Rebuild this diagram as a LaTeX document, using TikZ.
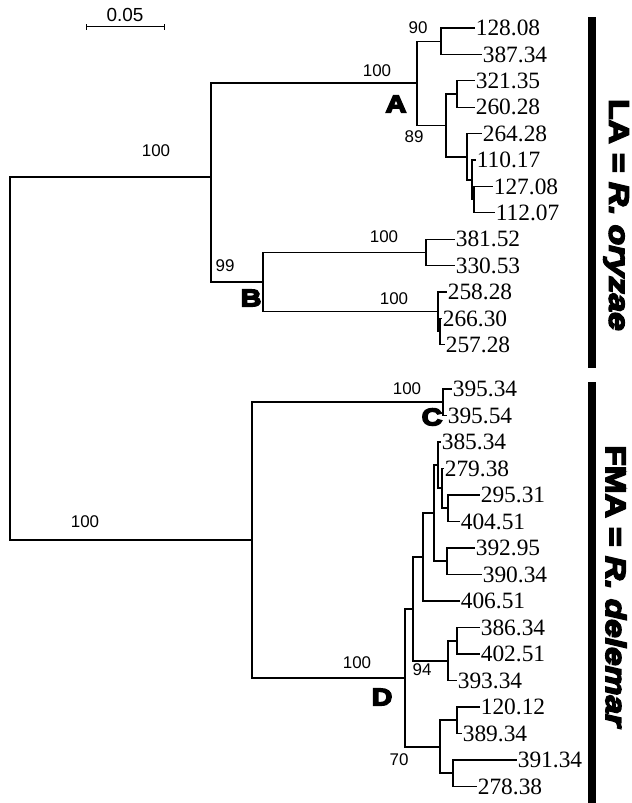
\documentclass[tikz,border=0pt]{standalone}
\usepackage{fontspec}
\setmainfont{Liberation Serif}
\newfontfamily\bsfont{Liberation Sans}
\newfontfamily\heavy{Liberation Sans}[BoldFeatures={FakeStretch=1.2},BoldItalicFeatures={FakeStretch=1.2}]
\newcommand\blacktext[2]{\special{pdf:literal direct 2 Tr #1 w}#2\special{pdf:literal direct 0 Tr}}

\begin{document}
\begin{tikzpicture}[x=1bp,y=-1bp,
    branch/.style={line width=1.2bp},
    leaf/.style={anchor=west,inner sep=0.6bp,font=\fontsize{23.5}{24}\selectfont},
    boot/.style={inner sep=0pt,font=\bsfont\fontsize{17}{18}\selectfont},
    clade/.style={inner sep=0pt,font=\heavy\bfseries\fontsize{24}{25}\selectfont},
    group/.style={inner sep=0pt,rotate=-90,font=\heavy\bfseries\fontsize{28}{30}\selectfont}]
    \useasboundingbox (0,0) rectangle (632,803);

    % scale bar
    \coordinate (sbl) at (86,27);
    \coordinate (sbr) at (164,27);
    \node [inner sep=0pt,font=\bsfont\fontsize{19}{20}\selectfont] (scale) at (125,15) {0.05};
    \draw [line width=1bp] (sbl) -- (sbr);
    \draw [line width=1bp] ([yshift=-3bp]sbl) -- ([yshift=3bp]sbl);
    \draw [line width=1bp] ([yshift=-3bp]sbr) -- ([yshift=3bp]sbr);

    % inner nodes
    \coordinate (root) at (10,357.5);
    \coordinate (LA) at (211,177);
    \coordinate (cA) at (417,83);
    \coordinate (n90) at (441,41.2);
    \coordinate (n89) at (446,125.5);
    \coordinate (n89a) at (457,94);
    \coordinate (n89b) at (467,157);
    \coordinate (z2) at (472,180);
    \coordinate (z1) at (474,199.6);
    \coordinate (cB) at (263,282);
    \coordinate (b1) at (426,252.4);
    \coordinate (b2) at (438,311.8);
    \coordinate (b2a) at (440,331.6);
    \coordinate (FMA) at (252,540);
    \coordinate (cC) at (443,402);
    \coordinate (cD) at (405,678);
    \coordinate (d1) at (413,609);
    \coordinate (d2) at (423,557);
    \coordinate (d3) at (434,513);
    \coordinate (d4) at (438,465);
    \coordinate (d5) at (442,488);
    \coordinate (d6) at (448,508);
    \coordinate (d7) at (447,561);
    \coordinate (n94) at (448,661);
    \coordinate (d8) at (457,641);
    \coordinate (n70) at (440,747);
    \coordinate (d9) at (457,720);
    \coordinate (d10) at (453,773);

    % leaves
    \node [leaf] (s12808) at (475,28) {128.08};
    \node [leaf] (s38734) at (482,54.4) {387.34};
    \node [leaf] (s32135) at (475,80.8) {321.35};
    \node [leaf] (s26028) at (475,107.2) {260.28};
    \node [leaf] (s26428) at (482,133.6) {264.28};
    \node [leaf] (s11017) at (476,160) {110.17};
    \node [leaf] (s12708) at (493,186.4) {127.08};
    \node [leaf] (s11207) at (495,212.8) {112.07};
    \node [leaf] (s38152) at (455,239.2) {381.52};
    \node [leaf] (s33053) at (455,265.6) {330.53};
    \node [leaf] (s25828) at (447,292) {258.28};
    \node [leaf] (s26630) at (442,318.4) {266.30};
    \node [leaf] (s25728) at (445,344.8) {257.28};

    \node [leaf] (s39534) at (452,389) {395.34};
    \node [leaf] (s39554) at (447,415.5) {395.54};
    \node [leaf] (s38534) at (441,442) {385.34};
    \node [leaf] (s27938) at (444,468.5) {279.38};
    \node [leaf] (s29531) at (480,495) {295.31};
    \node [leaf] (s40451) at (460,521.5) {404.51};
    \node [leaf] (s39295) at (475,548) {392.95};
    \node [leaf] (s39034) at (482,574.5) {390.34};
    \node [leaf] (s40651) at (460,601) {406.51};
    \node [leaf] (s38634) at (480,627.5) {386.34};
    \node [leaf] (s40251) at (480,654) {402.51};
    \node [leaf] (s39334) at (457,680.5) {393.34};
    \node [leaf] (s12012) at (480,707) {120.12};
    \node [leaf] (s38934) at (462,733.5) {389.34};
    \node [leaf] (s39134) at (517,760) {391.34};
    \node [leaf] (s27838) at (477,786.5) {278.38};

    % branches
    \draw [branch] (root) |- (LA);
    \draw [branch] (root) |- (FMA);
    \draw [branch] (LA) |- (cA);
    \draw [branch] (LA) |- (cB);
    \draw [branch] (cA) |- (n90);
    \draw [branch] (cA) |- (n89);
    \draw [branch] (n90) |- (s12808);
    \draw [branch] (n90) |- (s38734);
    \draw [branch] (n89) |- (n89a);
    \draw [branch] (n89) |- (n89b);
    \draw [branch] (n89a) |- (s32135);
    \draw [branch] (n89a) |- (s26028);
    \draw [branch] (n89b) |- (s26428);
    \draw [branch] (n89b) |- (z2);
    \draw [branch] (z2) |- (s11017);
    \draw [branch] (z2) |- (z1);
    \draw [branch] (z1) |- (s12708);
    \draw [branch] (z1) |- (s11207);
    \draw [branch] (cB) |- (b1);
    \draw [branch] (cB) |- (b2);
    \draw [branch] (b1) |- (s38152);
    \draw [branch] (b1) |- (s33053);
    \draw [branch] (b2) |- (s25828);
    \draw [branch] (b2) |- (b2a);
    \draw [branch] (b2a) |- (s26630);
    \draw [branch] (b2a) |- (s25728);

    \draw [branch] (FMA) |- (cC);
    \draw [branch] (FMA) |- (cD);
    \draw [branch] (cC) |- (s39534);
    \draw [branch] (cC) |- (s39554);
    \draw [branch] (cD) |- (d1);
    \draw [branch] (cD) |- (n70);
    \draw [branch] (d1) |- (d2);
    \draw [branch] (d1) |- (n94);
    \draw [branch] (d2) |- (d3);
    \draw [branch] (d2) |- (s40651);
    \draw [branch] (d3) |- (d4);
    \draw [branch] (d3) |- (d7);
    \draw [branch] (d4) |- (s38534);
    \draw [branch] (d4) |- (d5);
    \draw [branch] (d5) |- (s27938);
    \draw [branch] (d5) |- (d6);
    \draw [branch] (d6) |- (s29531);
    \draw [branch] (d6) |- (s40451);
    \draw [branch] (d7) |- (s39295);
    \draw [branch] (d7) |- (s39034);
    \draw [branch] (n94) |- (d8);
    \draw [branch] (n94) |- (s39334);
    \draw [branch] (d8) |- (s38634);
    \draw [branch] (d8) |- (s40251);
    \draw [branch] (n70) |- (d9);
    \draw [branch] (n70) |- (d10);
    \draw [branch] (d9) |- (s12012);
    \draw [branch] (d9) |- (s38934);
    \draw [branch] (d10) |- (s39134);
    \draw [branch] (d10) |- (s27838);

    % support values
    \node [boot] (bsLA) at (156,151) {100};
    \node [boot] (bsFMA) at (85,522) {100};
    \node [boot] (bsA) at (377,71) {100};
    \node [boot] (bs90) at (418,28) {90};
    \node [boot] (bs89) at (414,137) {89};
    \node [boot] (bs99) at (225,266) {99};
    \node [boot] (bsB1) at (384,237) {100};
    \node [boot] (bsB2) at (394,299) {100};
    \node [boot] (bsC) at (407,389) {100};
    \node [boot] (bsD) at (357,663) {100};
    \node [boot] (bs94) at (422,670) {94};
    \node [boot] (bs70) at (399,760) {70};

    % clade letters
    \node [clade] (labA) at (396,104) {\blacktext{1.6}{A}};
    \node [clade] (labB) at (251,298) {\blacktext{1.6}{B}};
    \node [clade] (labC) at (432,417) {\blacktext{1.6}{C}};
    \node [clade] (labD) at (382,697) {\blacktext{1.6}{D}};

    % species bars
    \fill (588,17) rectangle (596,368);
    \fill (588,382) rectangle (596,803);
    \node [group] (grLA) at (616,215) {\blacktext{1.6}{LA = \textit{R. oryzae}}};
    \node [group] (grFMA) at (616,587) {\blacktext{1.6}{FMA = \textit{R. delemar}}};
\end{tikzpicture}
\end{document}
